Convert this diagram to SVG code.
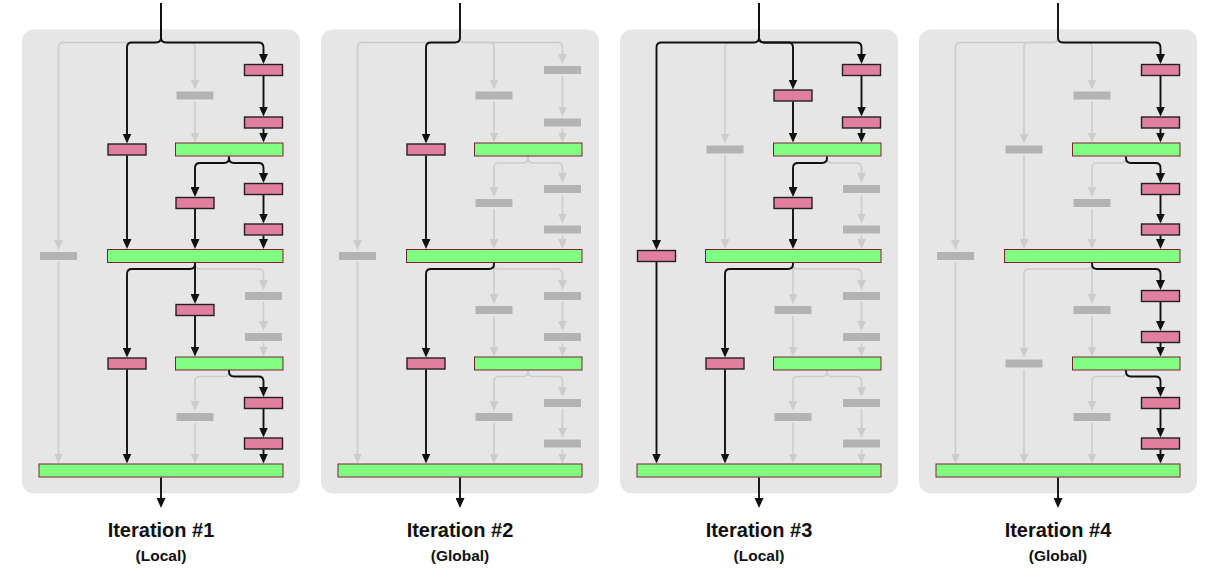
<svg xmlns="http://www.w3.org/2000/svg" width="1213" height="581" viewBox="0 0 1213 581">
<style>
.bg{fill:#e6e6e6}
.cg{fill:none;stroke:#cccccc;stroke-width:1.6;marker-end:url(#ag)}
.cb{fill:none;stroke:#111111;stroke-width:1.9;marker-end:url(#ab)}
.on{fill:#e07f9e;stroke:#222222;stroke-width:1.4}
.off{fill:#b3b3b3}
.gr{fill:#80ff80;stroke:#7b2037;stroke-width:1}
.t1{font-family:"Liberation Sans",Arial,sans-serif;font-weight:bold;font-size:20px;text-anchor:middle;fill:#111}
.t2{font-family:"Liberation Sans",Arial,sans-serif;font-weight:bold;font-size:15.5px;text-anchor:middle;fill:#111}
</style>
<defs>
<marker id="ab" viewBox="0 0 10 9" refX="6" refY="4.5" markerWidth="10" markerHeight="9" markerUnits="userSpaceOnUse" orient="auto"><path d="M0,0L10,4.5L0,9z" fill="#111111"/></marker>
<marker id="ag" viewBox="0 0 10 9" refX="6" refY="4.5" markerWidth="10" markerHeight="9" markerUnits="userSpaceOnUse" orient="auto"><path d="M0,0L10,4.5L0,9z" fill="#cccccc"/></marker>
</defs>

<!-- Panel 1 -->
<g id="panel1">
<rect class="bg" x="22" y="29.5" width="278" height="464" rx="12"/>
<g id="p1-connectors">
<path class="cg" d="M161,3V37.5Q161,42.5 156,42.5H63.5Q58.5,42.5 58.5,47.5V246"/>
<path class="cg" d="M161,3V37.5Q161,42.5 166,42.5H190Q195,42.5 195,47.5V85.5"/>
<path class="cg" d="M195,101.5V138.5"/>
<path class="cg" d="M58.5,262V459.5"/>
<path class="cg" d="M195,263V264Q195,269 200,269H258.5Q263.5,269 263.5,274V286"/>
<path class="cg" d="M263.5,302V327"/>
<path class="cg" d="M263.5,343V352.5"/>
<path class="cg" d="M229,370V371.5Q229,376.5 224,376.5H200Q195,376.5 195,381.5V407"/>
<path class="cg" d="M195,423V459.5"/>
<path class="cb" d="M161,3V37.5Q161,42.5 156,42.5H132Q127,42.5 127,47.5V139.5"/>
<path class="cb" d="M161,3V37.5Q161,42.5 166,42.5H258.5Q263.5,42.5 263.5,47.5V60"/>
<path class="cb" d="M263.5,76V112.5"/>
<path class="cb" d="M263.5,128.5V138.5"/>
<path class="cb" d="M127,155.5V245"/>
<path class="cb" d="M229,156.5V158Q229,163 224,163H200Q195,163 195,168V193"/>
<path class="cb" d="M229,156.5V158Q229,163 234,163H258.5Q263.5,163 263.5,168V179"/>
<path class="cb" d="M263.5,195V219.5"/>
<path class="cb" d="M263.5,235.5V245"/>
<path class="cb" d="M195,209V245"/>
<path class="cb" d="M195,263V264Q195,269 190,269H132Q127,269 127,274V353.5"/>
<path class="cb" d="M195,263V300"/>
<path class="cb" d="M195,316V352.5"/>
<path class="cb" d="M127,369.5V459.5"/>
<path class="cb" d="M229,370V371.5Q229,376.5 234,376.5H258.5Q263.5,376.5 263.5,381.5V393"/>
<path class="cb" d="M263.5,409V433.5"/>
<path class="cb" d="M263.5,449.5V459.5"/>
<path class="cb" d="M161,477.5V504"/>
</g>
<g id="p1-D1"><rect class="on" x="244.5" y="64.5" width="38" height="11"/></g>
<g id="p1-C1"><rect class="off" x="176.5" y="91.5" width="37" height="8"/></g>
<g id="p1-D2"><rect class="on" x="244.5" y="117" width="38" height="11"/></g>
<g id="p1-B1"><rect class="on" x="108" y="144" width="38" height="11"/></g>
<g id="p1-G1"><rect class="gr" x="175.5" y="143" width="107.5" height="13"/></g>
<g id="p1-D3"><rect class="on" x="244.5" y="183.5" width="38" height="11"/></g>
<g id="p1-C2"><rect class="on" x="176" y="197.5" width="38" height="11"/></g>
<g id="p1-D4"><rect class="on" x="244.5" y="224" width="38" height="11"/></g>
<g id="p1-A1"><rect class="off" x="40" y="252" width="37" height="8"/></g>
<g id="p1-G2"><rect class="gr" x="107.5" y="249.5" width="175.5" height="13"/></g>
<g id="p1-D5"><rect class="off" x="245" y="292" width="37" height="8"/></g>
<g id="p1-C3"><rect class="on" x="176" y="304.5" width="38" height="11"/></g>
<g id="p1-D6"><rect class="off" x="245" y="333" width="37" height="8"/></g>
<g id="p1-B2"><rect class="on" x="108" y="358" width="38" height="11"/></g>
<g id="p1-G3"><rect class="gr" x="175.5" y="357" width="107.5" height="13"/></g>
<g id="p1-D7"><rect class="on" x="244.5" y="397.5" width="38" height="11"/></g>
<g id="p1-C4"><rect class="off" x="176.5" y="413" width="37" height="8"/></g>
<g id="p1-D8"><rect class="on" x="244.5" y="438" width="38" height="11"/></g>
<g id="p1-GF"><rect class="gr" x="39" y="464" width="244" height="13"/></g>
<g id="p1-label"><text class="t1" x="161" y="537">Iteration #1</text><text class="t2" x="161" y="561">(Local)</text></g>
</g>

<!-- Panel 2 -->
<g id="panel2" transform="translate(299,0)">
<rect class="bg" x="22" y="29.5" width="278" height="464" rx="12"/>
<g id="p2-connectors">
<path class="cg" d="M161,3V37.5Q161,42.5 156,42.5H63.5Q58.5,42.5 58.5,47.5V246"/>
<path class="cg" d="M161,3V37.5Q161,42.5 166,42.5H190Q195,42.5 195,47.5V85.5"/>
<path class="cg" d="M161,3V37.5Q161,42.5 166,42.5H258.5Q263.5,42.5 263.5,47.5V60"/>
<path class="cg" d="M263.5,76V112.5"/>
<path class="cg" d="M263.5,128.5V138.5"/>
<path class="cg" d="M195,101.5V138.5"/>
<path class="cg" d="M229,156.5V158Q229,163 224,163H200Q195,163 195,168V193"/>
<path class="cg" d="M229,156.5V158Q229,163 234,163H258.5Q263.5,163 263.5,168V179"/>
<path class="cg" d="M263.5,195V219.5"/>
<path class="cg" d="M263.5,235.5V245"/>
<path class="cg" d="M195,209V245"/>
<path class="cg" d="M58.5,262V459.5"/>
<path class="cg" d="M195,263V300"/>
<path class="cg" d="M195,263V264Q195,269 200,269H258.5Q263.5,269 263.5,274V286"/>
<path class="cg" d="M263.5,302V327"/>
<path class="cg" d="M263.5,343V352.5"/>
<path class="cg" d="M195,316V352.5"/>
<path class="cg" d="M229,370V371.5Q229,376.5 224,376.5H200Q195,376.5 195,381.5V407"/>
<path class="cg" d="M229,370V371.5Q229,376.5 234,376.5H258.5Q263.5,376.5 263.5,381.5V393"/>
<path class="cg" d="M263.5,409V433.5"/>
<path class="cg" d="M263.5,449.5V459.5"/>
<path class="cg" d="M195,423V459.5"/>
<path class="cb" d="M161,3V37.5Q161,42.5 156,42.5H132Q127,42.5 127,47.5V139.5"/>
<path class="cb" d="M127,155.5V245"/>
<path class="cb" d="M195,263V264Q195,269 190,269H132Q127,269 127,274V353.5"/>
<path class="cb" d="M127,369.5V459.5"/>
<path class="cb" d="M161,477.5V504"/>
</g>
<g id="p2-D1"><rect class="off" x="245" y="66" width="37" height="8"/></g>
<g id="p2-C1"><rect class="off" x="176.5" y="91.5" width="37" height="8"/></g>
<g id="p2-D2"><rect class="off" x="245" y="118.5" width="37" height="8"/></g>
<g id="p2-B1"><rect class="on" x="108" y="144" width="38" height="11"/></g>
<g id="p2-G1"><rect class="gr" x="175.5" y="143" width="107.5" height="13"/></g>
<g id="p2-D3"><rect class="off" x="245" y="185" width="37" height="8"/></g>
<g id="p2-C2"><rect class="off" x="176.5" y="199" width="37" height="8"/></g>
<g id="p2-D4"><rect class="off" x="245" y="225.5" width="37" height="8"/></g>
<g id="p2-A1"><rect class="off" x="40" y="252" width="37" height="8"/></g>
<g id="p2-G2"><rect class="gr" x="107.5" y="249.5" width="175.5" height="13"/></g>
<g id="p2-D5"><rect class="off" x="245" y="292" width="37" height="8"/></g>
<g id="p2-C3"><rect class="off" x="176.5" y="306" width="37" height="8"/></g>
<g id="p2-D6"><rect class="off" x="245" y="333" width="37" height="8"/></g>
<g id="p2-B2"><rect class="on" x="108" y="358" width="38" height="11"/></g>
<g id="p2-G3"><rect class="gr" x="175.5" y="357" width="107.5" height="13"/></g>
<g id="p2-D7"><rect class="off" x="245" y="399" width="37" height="8"/></g>
<g id="p2-C4"><rect class="off" x="176.5" y="413" width="37" height="8"/></g>
<g id="p2-D8"><rect class="off" x="245" y="439.5" width="37" height="8"/></g>
<g id="p2-GF"><rect class="gr" x="39" y="464" width="244" height="13"/></g>
<g id="p2-label"><text class="t1" x="161" y="537">Iteration #2</text><text class="t2" x="161" y="561">(Global)</text></g>
</g>

<!-- Panel 3 -->
<g id="panel3" transform="translate(598,0)">
<rect class="bg" x="22" y="29.5" width="278" height="464" rx="12"/>
<g id="p3-connectors">
<path class="cg" d="M161,3V37.5Q161,42.5 156,42.5H132Q127,42.5 127,47.5V139.5"/>
<path class="cg" d="M127,155.5V245"/>
<path class="cg" d="M229,156.5V158Q229,163 234,163H258.5Q263.5,163 263.5,168V179"/>
<path class="cg" d="M263.5,195V219.5"/>
<path class="cg" d="M263.5,235.5V245"/>
<path class="cg" d="M195,263V300"/>
<path class="cg" d="M195,263V264Q195,269 200,269H258.5Q263.5,269 263.5,274V286"/>
<path class="cg" d="M263.5,302V327"/>
<path class="cg" d="M263.5,343V352.5"/>
<path class="cg" d="M195,316V352.5"/>
<path class="cg" d="M229,370V371.5Q229,376.5 224,376.5H200Q195,376.5 195,381.5V407"/>
<path class="cg" d="M229,370V371.5Q229,376.5 234,376.5H258.5Q263.5,376.5 263.5,381.5V393"/>
<path class="cg" d="M263.5,409V433.5"/>
<path class="cg" d="M263.5,449.5V459.5"/>
<path class="cg" d="M195,423V459.5"/>
<path class="cb" d="M161,3V37.5Q161,42.5 156,42.5H63.5Q58.5,42.5 58.5,47.5V246"/>
<path class="cb" d="M161,3V37.5Q161,42.5 166,42.5H190Q195,42.5 195,47.5V85.5"/>
<path class="cb" d="M161,3V37.5Q161,42.5 166,42.5H258.5Q263.5,42.5 263.5,47.5V60"/>
<path class="cb" d="M263.5,76V112.5"/>
<path class="cb" d="M263.5,128.5V138.5"/>
<path class="cb" d="M195,101.5V138.5"/>
<path class="cb" d="M229,156.5V158Q229,163 224,163H200Q195,163 195,168V193"/>
<path class="cb" d="M195,209V245"/>
<path class="cb" d="M58.5,262V459.5"/>
<path class="cb" d="M195,263V264Q195,269 190,269H132Q127,269 127,274V353.5"/>
<path class="cb" d="M127,369.5V459.5"/>
<path class="cb" d="M161,477.5V504"/>
</g>
<g id="p3-D1"><rect class="on" x="244.5" y="64.5" width="38" height="11"/></g>
<g id="p3-C1"><rect class="on" x="176" y="90" width="38" height="11"/></g>
<g id="p3-D2"><rect class="on" x="244.5" y="117" width="38" height="11"/></g>
<g id="p3-B1"><rect class="off" x="108.5" y="145.5" width="37" height="8"/></g>
<g id="p3-G1"><rect class="gr" x="175.5" y="143" width="107.5" height="13"/></g>
<g id="p3-D3"><rect class="off" x="245" y="185" width="37" height="8"/></g>
<g id="p3-C2"><rect class="on" x="176" y="197.5" width="38" height="11"/></g>
<g id="p3-D4"><rect class="off" x="245" y="225.5" width="37" height="8"/></g>
<g id="p3-A1"><rect class="on" x="39.5" y="250.5" width="38" height="11"/></g>
<g id="p3-G2"><rect class="gr" x="107.5" y="249.5" width="175.5" height="13"/></g>
<g id="p3-D5"><rect class="off" x="245" y="292" width="37" height="8"/></g>
<g id="p3-C3"><rect class="off" x="176.5" y="306" width="37" height="8"/></g>
<g id="p3-D6"><rect class="off" x="245" y="333" width="37" height="8"/></g>
<g id="p3-B2"><rect class="on" x="108" y="358" width="38" height="11"/></g>
<g id="p3-G3"><rect class="gr" x="175.5" y="357" width="107.5" height="13"/></g>
<g id="p3-D7"><rect class="off" x="245" y="399" width="37" height="8"/></g>
<g id="p3-C4"><rect class="off" x="176.5" y="413" width="37" height="8"/></g>
<g id="p3-D8"><rect class="off" x="245" y="439.5" width="37" height="8"/></g>
<g id="p3-GF"><rect class="gr" x="39" y="464" width="244" height="13"/></g>
<g id="p3-label"><text class="t1" x="161" y="537">Iteration #3</text><text class="t2" x="161" y="561">(Local)</text></g>
</g>

<!-- Panel 4 -->
<g id="panel4" transform="translate(897,0)">
<rect class="bg" x="22" y="29.5" width="278" height="464" rx="12"/>
<g id="p4-connectors">
<path class="cg" d="M161,3V37.5Q161,42.5 156,42.5H63.5Q58.5,42.5 58.5,47.5V246"/>
<path class="cg" d="M161,3V37.5Q161,42.5 156,42.5H132Q127,42.5 127,47.5V139.5"/>
<path class="cg" d="M161,3V37.5Q161,42.5 166,42.5H190Q195,42.5 195,47.5V85.5"/>
<path class="cg" d="M195,101.5V138.5"/>
<path class="cg" d="M127,155.5V245"/>
<path class="cg" d="M229,156.5V158Q229,163 224,163H200Q195,163 195,168V193"/>
<path class="cg" d="M195,209V245"/>
<path class="cg" d="M58.5,262V459.5"/>
<path class="cg" d="M195,263V264Q195,269 190,269H132Q127,269 127,274V353.5"/>
<path class="cg" d="M195,263V300"/>
<path class="cg" d="M127,369.5V459.5"/>
<path class="cg" d="M195,316V352.5"/>
<path class="cg" d="M229,370V371.5Q229,376.5 224,376.5H200Q195,376.5 195,381.5V407"/>
<path class="cg" d="M195,423V459.5"/>
<path class="cb" d="M161,3V37.5Q161,42.5 166,42.5H258.5Q263.5,42.5 263.5,47.5V60"/>
<path class="cb" d="M263.5,76V112.5"/>
<path class="cb" d="M263.5,128.5V138.5"/>
<path class="cb" d="M229,156.5V158Q229,163 234,163H258.5Q263.5,163 263.5,168V179"/>
<path class="cb" d="M263.5,195V219.5"/>
<path class="cb" d="M263.5,235.5V245"/>
<path class="cb" d="M195,263V264Q195,269 200,269H258.5Q263.5,269 263.5,274V286"/>
<path class="cb" d="M263.5,302V327"/>
<path class="cb" d="M263.5,343V352.5"/>
<path class="cb" d="M229,370V371.5Q229,376.5 234,376.5H258.5Q263.5,376.5 263.5,381.5V393"/>
<path class="cb" d="M263.5,409V433.5"/>
<path class="cb" d="M263.5,449.5V459.5"/>
<path class="cb" d="M161,477.5V504"/>
</g>
<g id="p4-D1"><rect class="on" x="244.5" y="64.5" width="38" height="11"/></g>
<g id="p4-C1"><rect class="off" x="176.5" y="91.5" width="37" height="8"/></g>
<g id="p4-D2"><rect class="on" x="244.5" y="117" width="38" height="11"/></g>
<g id="p4-B1"><rect class="off" x="108.5" y="145.5" width="37" height="8"/></g>
<g id="p4-G1"><rect class="gr" x="175.5" y="143" width="107.5" height="13"/></g>
<g id="p4-D3"><rect class="on" x="244.5" y="183.5" width="38" height="11"/></g>
<g id="p4-C2"><rect class="off" x="176.5" y="199" width="37" height="8"/></g>
<g id="p4-D4"><rect class="on" x="244.5" y="224" width="38" height="11"/></g>
<g id="p4-A1"><rect class="off" x="40" y="252" width="37" height="8"/></g>
<g id="p4-G2"><rect class="gr" x="107.5" y="249.5" width="175.5" height="13"/></g>
<g id="p4-D5"><rect class="on" x="244.5" y="290.5" width="38" height="11"/></g>
<g id="p4-C3"><rect class="off" x="176.5" y="306" width="37" height="8"/></g>
<g id="p4-D6"><rect class="on" x="244.5" y="331.5" width="38" height="11"/></g>
<g id="p4-B2"><rect class="off" x="108.5" y="359.5" width="37" height="8"/></g>
<g id="p4-G3"><rect class="gr" x="175.5" y="357" width="107.5" height="13"/></g>
<g id="p4-D7"><rect class="on" x="244.5" y="397.5" width="38" height="11"/></g>
<g id="p4-C4"><rect class="off" x="176.5" y="413" width="37" height="8"/></g>
<g id="p4-D8"><rect class="on" x="244.5" y="438" width="38" height="11"/></g>
<g id="p4-GF"><rect class="gr" x="39" y="464" width="244" height="13"/></g>
<g id="p4-label"><text class="t1" x="161" y="537">Iteration #4</text><text class="t2" x="161" y="561">(Global)</text></g>
</g>
</svg>
